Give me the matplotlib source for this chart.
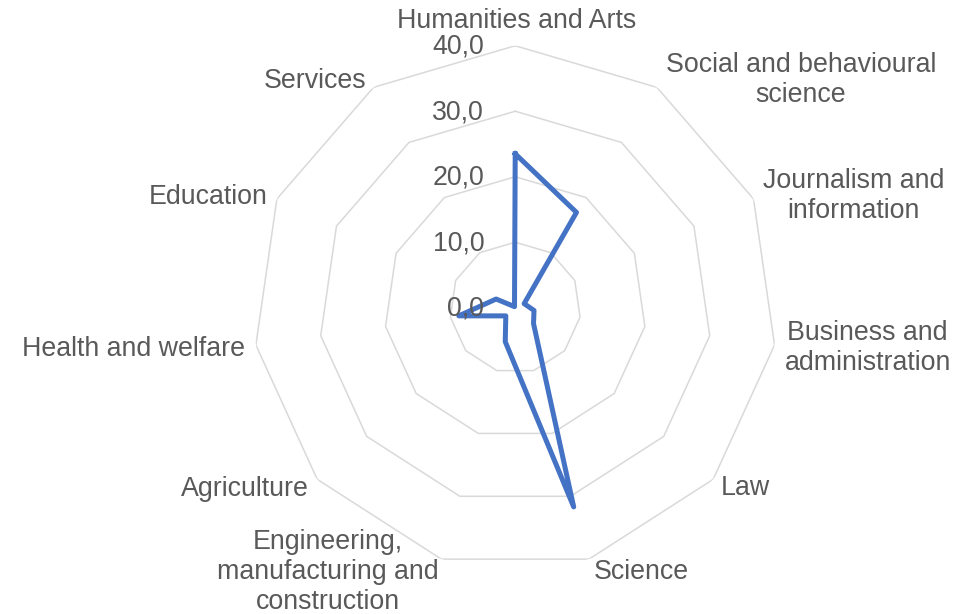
import numpy as np
import matplotlib
matplotlib.use("Agg")
import matplotlib.pyplot as plt

plt.rcParams['font.family'] = ['Liberation Sans', 'DejaVu Sans']

categories = ["Humanities and Arts", "Social and behavioural\nscience",
              "Journalism and\ninformation", "Business and\nadministration",
              "Law", "Science", "Engineering,\nmanufacturing and\nconstruction",
              "Agriculture", "Health and welfare", "Education", "Services"]
values = [23.5, 17.3, 1.5, 2.9, 3.7, 31.7, 5.4, 1.9, 8.7, 3.2, 0.2]
ring_levels = [0, 10, 20, 30, 40]
ring_labels = ["0,0", "10,0", "20,0", "30,0", "40,0"]

# label offsets (pixels) from the outer vertex, plus alignment
label_offsets = [(1, 25, 'center'), (9, 7, 'left'), (9, 3, 'left'), (10, -3, 'left'),
                 (8, -9, 'left'), (5, -13, 'left'), (-3, -13, 'right'),
                 (-8, -10, 'right'), (-11, -4, 'right'), (-9, 2, 'right'), (-7, 6, 'right')]

text_color = '#595959'
grid_color = '#D9D9D9'
line_color = '#4472C4'
fs = 19.3

fig = plt.figure(figsize=(9.54, 6.14), dpi=100)
ax = fig.add_axes([0.2654, 0.0721, 0.5493, 0.8534], projection='polar')
ax.set_theta_zero_location('N')
ax.set_theta_direction(-1)
ax.set_ylim(0, 40)
ax.grid(False)
ax.spines['polar'].set_visible(False)
ax.set_xticks([])
ax.set_yticks([])
ax.patch.set_visible(False)

n = len(categories)
angles = np.linspace(0, 2 * np.pi, n, endpoint=False)
closed = np.concatenate([angles, angles[:1]])

for lvl in ring_levels[1:]:
    ax.plot(closed, [lvl] * (n + 1), color=grid_color, lw=1.1, zorder=1)

vals = np.concatenate([values, values[:1]])
ax.plot(closed, vals, color=line_color, lw=3.6, solid_joinstyle='round', zorder=3)

for lvl, lab in zip(ring_levels, ring_labels):
    ax.annotate(lab, xy=(0, lvl), xytext=(-31, -1), textcoords='offset pixels',
                ha='right', va='center', fontsize=fs, color=text_color,
                annotation_clip=False, zorder=5)

for ang, cat, (dx, dy, ha) in zip(angles, categories, label_offsets):
    ax.annotate(cat, xy=(ang, 40), xytext=(dx, dy), textcoords='offset pixels',
                ha=ha, va='center', multialignment='center', fontsize=fs,
                color=text_color, linespacing=1.2, annotation_clip=False)

fig.savefig("out.png", dpi=100)
